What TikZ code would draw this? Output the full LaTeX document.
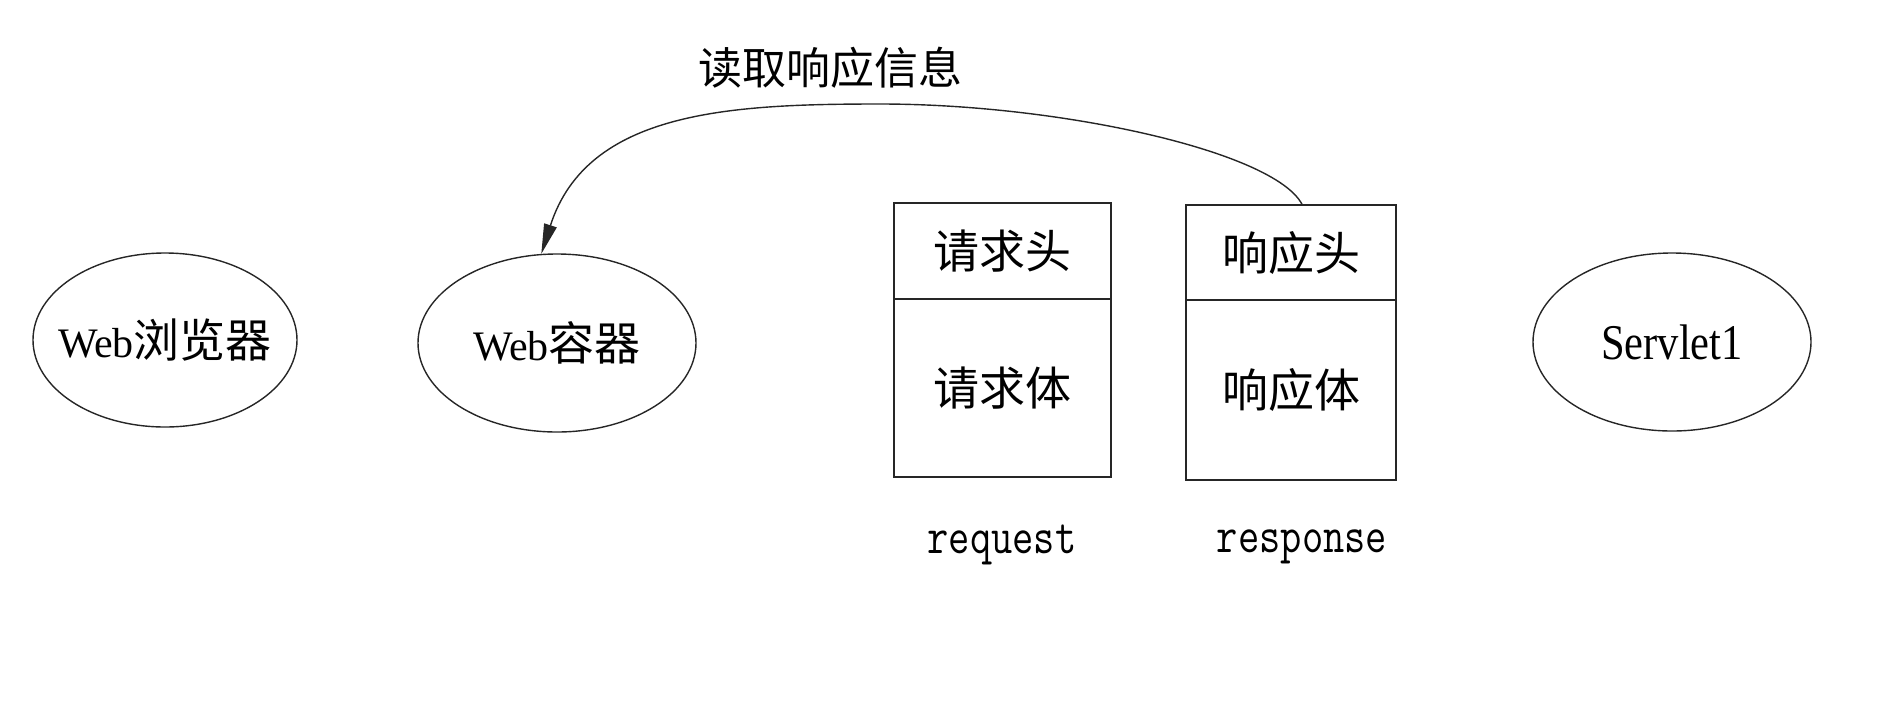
\documentclass[tikz,border=0pt]{standalone}
\usepackage{fontspec}
\setmainfont{Liberation Serif}
\newfontfamily\cjk{Noto Sans CJK SC}
\newfontfamily\narrowserif[FakeStretch=0.85]{Liberation Serif}
\newfontfamily\mono[FakeStretch=0.8]{Latin Modern Mono}
\usetikzlibrary{shapes.geometric,arrows.meta}

\newcommand{\latinsize}{\fontsize{21pt}{24pt}\selectfont}
\newcommand{\hansize}{\fontsize{23pt}{26pt}\selectfont}

\tikzset{
  line/.style={draw=black!85, line width=0.7pt},
  oval/.style={line, ellipse, inner sep=0pt, minimum width=139pt, minimum height=89pt},
  cell/.style={line, rectangle, inner sep=0pt, font=\cjk\hansize},
  tag/.style={inner sep=0pt, font=\mono\fontsize{25.8pt}{28pt}\selectfont},
  conn/.style={line, -{Triangle[length=15pt,width=6.5pt]}},
}

\begin{document}
\begin{tikzpicture}[x=0.5pt, y=-0.5pt]
  \useasboundingbox (0,0) rectangle (1890,708);

  % client side and container (labels kept from widening the ovals)
  \node[oval, minimum width=132pt, minimum height=87pt] (browser) at (165,340)
    {\makebox[0pt][c]{{\latinsize Web}{\cjk\hansize 浏览器}}};
  \node[oval] (container) at (557,343)
    {\makebox[0pt][c]{{\latinsize Web}{\cjk\hansize 容器}}};

  % request object: header and body
  \node[cell, minimum width=108.5pt, minimum height=48pt] (reqhead) at (1002.5,251) {请求头};
  \node[cell, minimum width=108.5pt, minimum height=89pt] (reqbody) at (1002.5,388) {请求体};
  \node[tag] (reqname) at (1002,545) {request};

  % response object: header and body
  \node[cell, minimum width=105pt, minimum height=47.5pt] (resphead) at (1291,252.5) {响应头};
  \node[cell, minimum width=105pt, minimum height=90pt] (respbody) at (1291,390) {响应体};
  \node[tag] (respname) at (1302,547) {response};

  % servlet
  \node[oval] (servlet) at (1672,342)
    {\makebox[0pt][c]{\narrowserif\fontsize{25pt}{28pt}\selectfont Servlet1}};

  % container reads the response
  \coordinate (crest) at (880,104);
  \node[inner sep=0pt, font=\cjk\fontsize{22pt}{25pt}\selectfont] (readlabel) at (830,68) {读取响应信息};
  \draw[conn] ([xshift=5.5pt]resphead.north)
    .. controls +(-28,-53) and +(180,0) .. (crest)
    .. controls +(-150,0) and +(46,-143) .. (container.100);
\end{tikzpicture}
\end{document}
